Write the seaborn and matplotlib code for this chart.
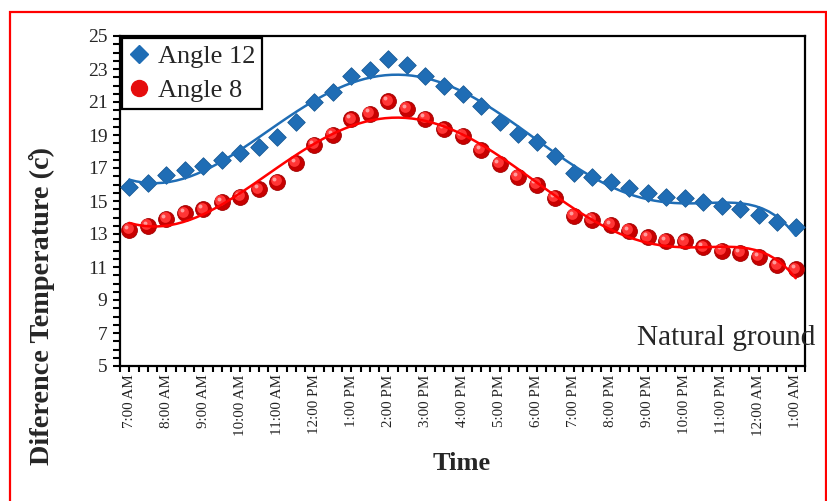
import numpy as np
import pandas as pd
import matplotlib
matplotlib.use("Agg")
import matplotlib.pyplot as plt
from matplotlib.lines import Line2D
from matplotlib.patches import Rectangle
from matplotlib.transforms import offset_copy
import seaborn as sns

# Half-hourly readings, 7:00 AM to 1:00 AM (hours after 7:00 AM)
hours = np.arange(37) * 0.5
hour_labels = ["7:00 AM", "8:00 AM", "9:00 AM", "10:00 AM", "11:00 AM", "12:00 PM",
               "1:00 PM", "2:00 PM", "3:00 PM", "4:00 PM", "5:00 PM", "6:00 PM",
               "7:00 PM", "8:00 PM", "9:00 PM", "10:00 PM", "11:00 PM", "12:00 AM",
               "1:00 AM"]
angle12 = [15.85, 16.1, 16.6, 16.9, 17.1, 17.5, 17.9, 18.3, 18.85, 19.8, 21.0, 21.6,
           22.6, 22.95, 23.6, 23.25, 22.6, 21.95, 21.5, 20.75, 19.8, 19.05, 18.6, 17.7,
           16.7, 16.45, 16.15, 15.8, 15.5, 15.25, 15.2, 14.95, 14.7, 14.5, 14.15, 13.75,
           13.45]
angle8 = [13.25, 13.5, 13.9, 14.25, 14.5, 14.95, 15.25, 15.7, 16.15, 17.3, 18.4, 19.0,
          19.95, 20.3, 21.05, 20.6, 20.0, 19.35, 18.95, 18.1, 17.25, 16.45, 16.0, 15.2,
          14.1, 13.85, 13.55, 13.2, 12.8, 12.6, 12.55, 12.2, 12.0, 11.85, 11.6, 11.1,
          10.85]
y_ticks = [5, 7, 9, 11, 13, 15, 17, 19, 21, 23, 25]

df = pd.DataFrame({"hours": hours, "angle12": angle12, "angle8": angle8})

sns.set_style("ticks")
plt.rcParams["font.family"] = ["Liberation Serif", "DejaVu Serif"]

BLUE = "#1f6db5"
RED = "#e50d0d"

fig = plt.figure(figsize=(8.28, 5.01), dpi=100)
ax = fig.add_axes([120 / 828, 1 - 366 / 501, 685 / 828, 330 / 501])

# markers
sns.scatterplot(data=df, x="hours", y="angle12", marker="D", s=80, color=BLUE,
                edgecolor="#185a96", linewidth=0.6, ax=ax, zorder=3, legend=False)
sns.scatterplot(data=df, x="hours", y="angle8", marker="o", s=130, color="#c80000",
                edgecolor="#a00000", linewidth=0.6, ax=ax, zorder=3, legend=False)
# sphere shading on the round markers
hl = offset_copy(ax.transData, fig=fig, x=-1.2, y=1.2, units="points")
ax.scatter(df["hours"], df["angle8"], s=60, color="#ff3535", linewidth=0,
           transform=hl, zorder=3.2)
hl2 = offset_copy(ax.transData, fig=fig, x=-2.2, y=2.2, units="points")
ax.scatter(df["hours"], df["angle8"], s=8, color="#ff9c9c", linewidth=0,
           transform=hl2, zorder=3.3)

# 6th-order polynomial trend lines
sns.regplot(data=df, x="hours", y="angle12", order=6, ci=None, scatter=False,
            line_kws={"color": BLUE, "lw": 1.8, "zorder": 4}, ax=ax)
sns.regplot(data=df, x="hours", y="angle8", order=6, ci=None, scatter=False,
            line_kws={"color": "#ff0000", "lw": 1.8, "zorder": 4}, ax=ax)

ax.set_xlim(-0.25, 18.25)
ax.set_ylim(5, 25)
ax.set_xticks(np.arange(0, 19, 1.0))
ax.set_xticklabels(hour_labels, rotation=90, fontsize=10.8, color="#222222")
ax.set_xticks(np.arange(-0.25, 18.26, 0.25), minor=True)
ax.set_yticks(y_ticks)
ax.set_yticklabels([str(v) for v in y_ticks], fontsize=14)
ax.set_yticks(np.arange(5, 25.01, 0.5), minor=True)
ax.tick_params(axis="both", which="both", direction="out", width=1.5, color="black")
ax.tick_params(axis="y", which="both", length=5, pad=4)
ax.tick_params(axis="x", which="both", length=4, pad=2)
ax.set_xlabel("")
ax.set_ylabel("")
for sp in ax.spines.values():
    sp.set_visible(True)
    sp.set_linewidth(1.6)
    sp.set_color("black")

handles = [
    Line2D([], [], marker="D", color=BLUE, markersize=9, linestyle="none"),
    Line2D([], [], marker="o", color=RED, markersize=11.5, linestyle="none"),
]
leg = ax.legend(handles, ["Angle 12", "Angle 8"], loc="upper left",
                bbox_to_anchor=(0.003, 0.994), borderaxespad=0, fontsize=19,
                frameon=True, fancybox=False, edgecolor="black", framealpha=1,
                handlelength=0.8, handletextpad=0.3, labelspacing=0.4,
                borderpad=0.25)
leg.get_frame().set_linewidth(1.6)

fig.text(637 / 828, 1 - 345 / 501, "Natural ground", fontsize=21.2,
         ha="left", va="baseline", zorder=10)

fig.text(462 / 828, 1 - 463 / 501, "Time", fontsize=19, fontweight="bold",
         ha="center", va="center")
fig.text(42 / 828, 1 - 306 / 501, "Diference Temperature (c\u030a)", fontsize=20.3,
         fontweight="bold", rotation=90, ha="center", va="center")

# page border
fig.patches.append(Rectangle((9.5 / 828, -0.1), (826.5 - 9.5) / 828, 1.1 - 11.5 / 501,
                             transform=fig.transFigure, fill=False,
                             edgecolor="red", linewidth=1.6))

fig.savefig("out.png", dpi=100)
